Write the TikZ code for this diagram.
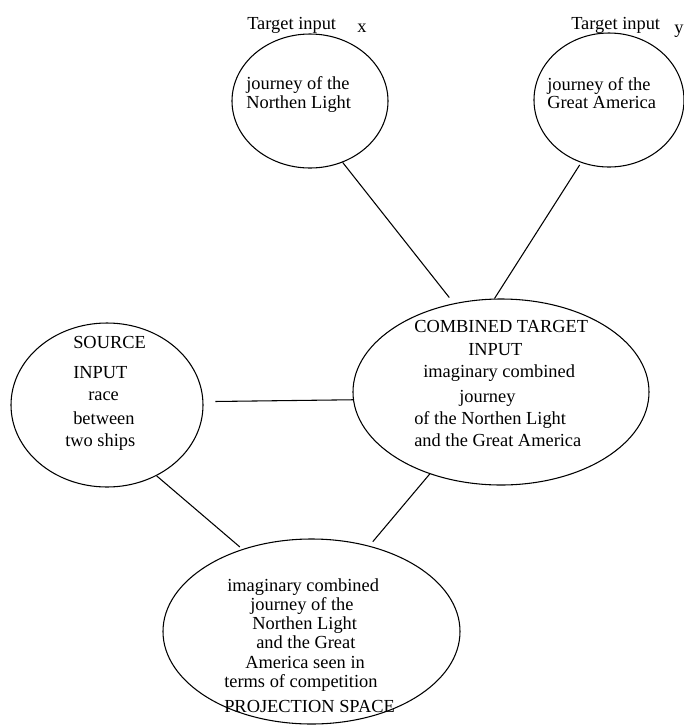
\documentclass[tikz,border=0pt]{standalone}
\usepackage{fontspec}
\setmainfont{Liberation Serif}
\usetikzlibrary{shapes.geometric}

\tikzset{
  bubble/.style={ellipse, draw, line width=0.8pt, inner sep=0pt},
  txt/.style={anchor=base west, inner sep=0pt, font=\fontsize{13.8pt}{16pt}\selectfont},
  link/.style={line width=0.8pt}
}

\begin{document}
\begin{tikzpicture}[x=0.75pt,y=-0.75pt]
\useasboundingbox (0,0) rectangle (684,726);

% the five spaces
\node[bubble, minimum width=117pt, minimum height=100.5pt] (nl) at (310,101) {};
\node[bubble, minimum width=112.5pt, minimum height=100.5pt] (ga) at (609,100) {};
\node[bubble, minimum width=144pt, minimum height=123pt] (src) at (107,405) {};
\node[bubble, minimum width=222pt, minimum height=139.5pt] (comb) at (501,392) {};
\node[bubble, minimum width=222.75pt, minimum height=138.75pt] (proj) at (311.5,631.5) {};

% labels above the two target inputs
\node[txt] (tx) at (247,29) {Target input};
\node[txt] (xl) at (357,32) {x};
\node[txt] (ty) at (571,29) {Target input};
\node[txt] (yl) at (674,33) {y};

% target input x
\node[txt] (nl1) at (246,89) {journey of the};
\node[txt] (nl2) at (246,108) {Northen Light};

% target input y
\node[txt] (ga1) at (547,90) {journey of the};
\node[txt] (ga2) at (547,108) {Great America};

% source input
\node[txt] (s1) at (73,348) {SOURCE};
\node[txt] (s2) at (73,378) {INPUT};
\node[txt] (s3) at (88,400) {race};
\node[txt] (s4) at (73,424) {between};
\node[txt] (s5) at (65,446) {two ships};

% combined target input
\node[txt] (c1) at (414,332) {COMBINED TARGET};
\node[txt] (c2) at (468,355) {INPUT};
\node[txt] (c3) at (423,377) {imaginary combined};
\node[txt] (c4) at (459,402) {journey};
\node[txt] (c5) at (414,424) {of the Northen Light};
\node[txt] (c6) at (414,446) {and the Great America};

% projection space
\node[txt] (p1) at (227,591) {imaginary combined};
\node[txt] (p2) at (250,610) {journey of the};
\node[txt] (p3) at (252,629) {Northen Light};
\node[txt] (p4) at (256,648) {and the Great};
\node[txt] (p5) at (245,668) {America seen in};
\node[txt] (p6) at (224,687) {terms of competition};
\node[txt] (p7) at (224,712) {PROJECTION SPACE};

% connections
\draw[link, shorten >=5.5pt] (nl.-62) -- (comb.118);
\draw[link, shorten <=2pt] (ga.246) -- (comb.94);
\draw[link, shorten <=9pt] (src.2.6) -- (comb.183);
\draw[link, shorten >=2.5pt] (src.-55) -- (proj.130.6);
\draw[link, shorten >=4pt] (comb.229.7) -- (proj.56.2);
\end{tikzpicture}
\end{document}
